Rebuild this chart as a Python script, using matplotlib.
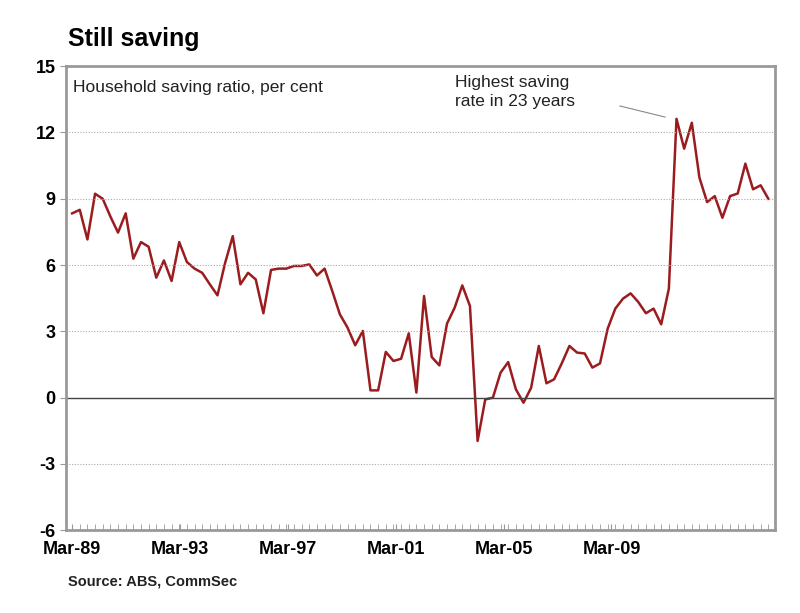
import matplotlib.pyplot as plt

plt.rcParams['font.family'] = ['Liberation Sans', 'DejaVu Sans']

saving = [8.34, 8.5, 7.16, 9.23, 9.0, 8.2, 7.47, 8.34, 6.29, 7.04, 6.83, 5.43, 6.21, 5.28, 7.04, 6.14,
          5.84, 5.65, 5.13, 4.63, 6.1, 7.31, 5.13, 5.65, 5.35, 3.82, 5.78, 5.84, 5.84, 5.96, 5.96, 6.03,
          5.53, 5.84, 4.83, 3.77, 3.17, 2.37, 3.02, 0.33, 0.33, 2.07, 1.66, 1.76, 2.91, 0.23,
          4.6, 1.84, 1.46, 3.35, 4.07, 5.08, 4.15, -1.96, -0.08, 0.0, 1.13, 1.61, 0.38, -0.23, 0.45,
          2.34, 0.65, 0.83, 1.55, 2.34, 2.04, 2.0, 1.36, 1.55, 3.12, 4.03, 4.48, 4.72, 4.33, 3.82,
          4.03, 3.32, 4.93, 12.62, 11.27, 12.44, 9.95, 8.85, 9.12, 8.14, 9.12, 9.24, 10.59, 9.43,
          9.61, 9.0]
x_labels = ['Mar-89', 'Mar-93', 'Mar-97', 'Mar-01', 'Mar-05', 'Mar-09']
y_ticks = [-6, -3, 0, 3, 6, 9, 12, 15]

fig = plt.figure(figsize=(8, 6.13), dpi=100)
ax = fig.add_axes([0.0825, 0.135, 0.8865, 0.757])

xs = list(range(len(saving)))
ax.plot(xs, saving, color='#9b1c1f', lw=1.8)
ax.axhline(0, color='#444444', lw=1)

ax.set_xlim(-0.8, 91.9)
ax.set_ylim(-6, 15)
ax.set_yticks(y_ticks)
ax.set_yticklabels([str(v) for v in y_ticks], fontsize=13, fontweight='bold')
for v in y_ticks:
    if v not in (0, -6, 15):
        ax.axhline(v, color='#aaaaaa', lw=0.8, ls=(0, (1, 1.5)))

ax.set_xticks([14.1 * i for i in range(len(x_labels))])
ax.set_xticklabels(x_labels, fontsize=13, fontweight='bold')
ax.set_xticks(xs, minor=True)
ax.tick_params(axis='x', which='both', direction='in', length=4, color='#999999', pad=8)
ax.tick_params(axis='y', length=4, color='#999999')

for s in ax.spines.values():
    s.set_color('#999999')
    s.set_linewidth(2)

ax.text(0.01, 0.97, 'Household saving ratio, per cent', transform=ax.transAxes,
        fontsize=12.5, va='top', color='#222222')
ax.text(50, 14.6, 'Highest saving\nrate in 23 years', fontsize=12.5, va='top',
        color='#222222', linespacing=1.3)
ax.plot([71.6, 77.5], [13.2, 12.7], color='#888888', lw=0.8)

fig.text(0.085, 0.925, 'Still saving', fontsize=18, fontweight='bold')
fig.text(0.085, 0.045, 'Source: ABS, CommSec', fontsize=10.5, fontweight='bold', color='#222222')

fig.savefig('out.png', dpi=100)
